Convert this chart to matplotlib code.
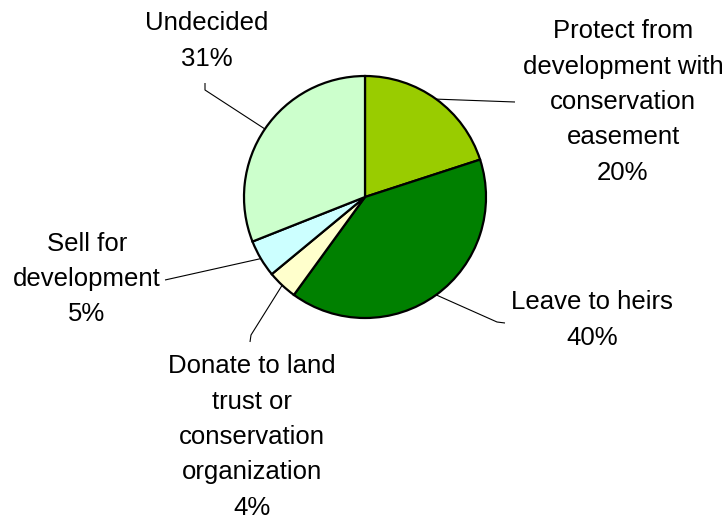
import numpy as np
import matplotlib
matplotlib.use("Agg")
import matplotlib.pyplot as plt

plt.rcParams['font.family'] = ['Liberation Sans', 'DejaVu Sans']

# ---- data ----
categories = ["Protect from\ndevelopment with\nconservation\neasement",
              "Leave to heirs",
              "Donate to land\ntrust or\nconservation\norganization",
              "Sell for\ndevelopment",
              "Undecided"]
values = [20, 40, 4, 5, 31]
colors = ["#99CC00", "#008000", "#FFFFCC", "#CCFFFF", "#CCFFCC"]

# ---- layout (pixel coordinates, y measured from top) ----
W, H = 726, 519
center_px = (365, 197)
radius = 121
# label block centers and leader-line paths (after the wedge edge point)
label_pos = [(623, 102), (592, 320), (252, 437), (87, 279), (207, 41)]
leader_paths = [
    [(515, 102)],
    [(497, 322), (505, 323)],
    [(251, 335), (250, 342)],
    [(165, 280)],
    [(205, 90), (205, 83)],
]

def Y(y):
    return H - y

fig = plt.figure(figsize=(W / 100, H / 100), dpi=100)
ax = fig.add_axes([0, 0, 1, 1])
wedges, _ = ax.pie(values, colors=colors, startangle=90, counterclock=False,
                   center=(center_px[0], Y(center_px[1])), radius=radius,
                   wedgeprops=dict(edgecolor="black", linewidth=1.6),
                   frame=True)
ax.set_xlim(0, W)
ax.set_ylim(0, H)
ax.set_aspect("equal")
ax.axis("off")

cx, cy = center_px[0], Y(center_px[1])
for w, cat, val, pos, path in zip(wedges, categories, values, label_pos, leader_paths):
    mid = np.deg2rad((w.theta1 + w.theta2) / 2)
    xs = [cx + radius * np.cos(mid)] + [p[0] for p in path]
    ys = [cy + radius * np.sin(mid)] + [Y(p[1]) for p in path]
    ax.plot(xs, ys, color="black", lw=0.8, solid_capstyle="butt")
    ax.text(pos[0], Y(pos[1]), f"{cat}\n{val}%", ha="center", va="center",
            fontsize=18.5, linespacing=1.6, multialignment="center")

fig.savefig("out.png", dpi=100)
